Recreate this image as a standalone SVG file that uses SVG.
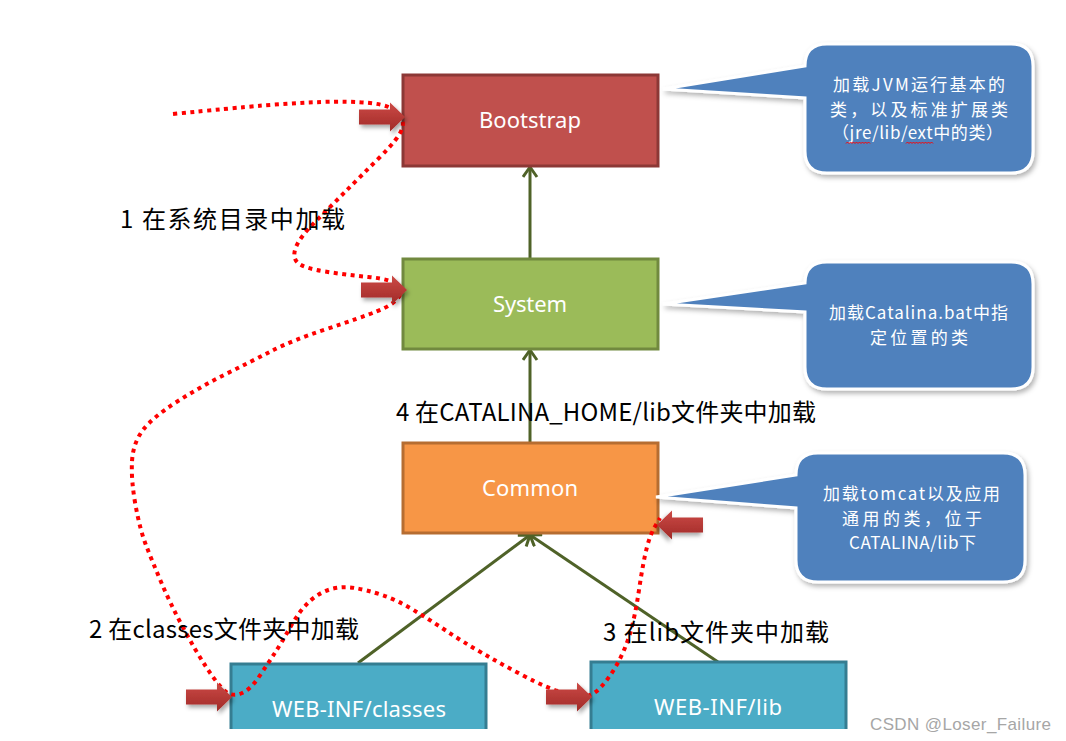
<svg xmlns="http://www.w3.org/2000/svg" width="1066" height="741" viewBox="0 0 1066 741">
<style>
.box{stroke-width:3}
.btxt{font-family:"Noto Sans","Open Sans",sans-serif;font-size:22px;fill:#ffffff;text-anchor:middle}
.ctxt{font-family:"Noto Sans CJK SC","Noto Sans",sans-serif;font-size:17px;fill:#ffffff}
.lbl{font-family:"Noto Sans CJK SC","Noto Sans",sans-serif;font-size:24px;fill:#000000}
.callout{fill:#4f81bd;stroke:#ffffff;stroke-width:3;filter:url(#cshadow)}
.conn{stroke:#4f6228;stroke-width:3;fill:none;marker-end:url(#vhead)}
.dots{fill:none;stroke:#ff0000;stroke-width:4;stroke-dasharray:4 4.5}
.squig{fill:none;stroke:#ff0000;stroke-width:1}
</style>
<defs>
<filter id="cshadow" x="-10%" y="-10%" width="125%" height="130%">
<feDropShadow dx="2" dy="3" stdDeviation="2.5" flood-color="#000" flood-opacity="0.3"/>
</filter>
<filter id="ashadow" x="-20%" y="-30%" width="150%" height="170%">
<feDropShadow dx="2" dy="3" stdDeviation="2" flood-color="#000" flood-opacity="0.35"/>
</filter>
<linearGradient id="ared" x1="0" y1="0" x2="0" y2="1">
<stop offset="0" stop-color="#cc4a46"/>
<stop offset="1" stop-color="#a02a27"/>
</linearGradient>
<path id="barrow" d="M0,-7.5 H31 V-14.5 L46,0 L31,14.5 V7.5 H0 Z" fill="url(#ared)" filter="url(#ashadow)"/>
<marker id="vhead" markerUnits="userSpaceOnUse" markerWidth="16" markerHeight="18" refX="11" refY="8" orient="auto">
<path d="M1,1 L11,8 L1,15" fill="none" stroke="#4f6228" stroke-width="3"/>
</marker>
</defs>
<rect width="1066" height="741" fill="#ffffff"/>

<g id="connectors">
<line class="conn" x1="530" y1="259" x2="530" y2="167"/>
<line class="conn" x1="530" y1="443" x2="530" y2="350"/>
<line class="conn" x1="358" y1="663" x2="530" y2="535"/>
<line class="conn" x1="718" y1="662" x2="530" y2="535"/>
</g>

<g id="node-bootstrap">
<rect class="box" x="403" y="75" width="255" height="91" fill="#c0504d" stroke="#8c3836"/>
<text class="btxt" x="530" y="128" textLength="102">Bootstrap</text>
</g>
<g id="node-system">
<rect class="box" x="403" y="259" width="255" height="90" fill="#9bbb59" stroke="#71893f"/>
<text class="btxt" x="530" y="312" textLength="74">System</text>
</g>
<g id="node-common">
<rect class="box" x="403" y="443" width="255" height="90" fill="#f79646" stroke="#b66d31"/>
<text class="btxt" x="530" y="496" textLength="96">Common</text>
</g>
<g id="node-webinf-classes">
<rect x="231" y="664" width="255" height="65" fill="#4bacc6"/>
<path d="M231,729 V664 H486 V729" fill="none" stroke="#357d91" stroke-width="3"/>
<text class="btxt" x="359" y="717" textLength="174">WEB-INF/classes</text>
</g>
<g id="node-webinf-lib">
<rect x="591" y="662" width="255" height="67" fill="#4bacc6"/>
<path d="M591,729 V662 H846 V729" fill="none" stroke="#357d91" stroke-width="3"/>
<text class="btxt" x="718" y="715" textLength="128">WEB-INF/lib</text>
</g>

<g id="callout-bootstrap">
<path class="callout" d="M827,44 H1011 Q1033,44 1033,66 V151 Q1033,173 1011,173 H827 Q805,173 805,151 V98 L663,89 L805,66 Q805,44 827,44 Z"/>
<text class="ctxt" x="833" y="91" textLength="172">加载JVM运行基本的</text>
<text class="ctxt" x="830" y="116" textLength="178">类，以及标准扩展类</text>
<text class="ctxt" x="832" y="139" textLength="171">（jre/lib/ext中的类）</text>
<path class="squig" d="M846,143.5 l1.5,-1.5 l1.5,1.5 l1.5,-1.5 l1.5,1.5 l1.5,-1.5 l1.5,1.5 l1.5,-1.5 l1.5,1.5 l1.5,-1.5 l1.5,1.5 l1.5,-1.5 l1.5,1.5 l1.5,-1.5 l1.5,1.5 l1.5,-1.5 l1.5,1.5"/>
<path class="squig" d="M906,143.5 l1.5,-1.5 l1.5,1.5 l1.5,-1.5 l1.5,1.5 l1.5,-1.5 l1.5,1.5 l1.5,-1.5 l1.5,1.5 l1.5,-1.5 l1.5,1.5 l1.5,-1.5 l1.5,1.5 l1.5,-1.5 l1.5,1.5 l1.5,-1.5 l1.5,1.5 l1.5,-1.5 l1.5,1.5"/>
</g>
<g id="callout-system">
<path class="callout" d="M827,262 H1011 Q1033,262 1033,284 V367 Q1033,389 1011,389 H827 Q805,389 805,367 V312 L663,304 L805,283 Q805,262 827,262 Z"/>
<text class="ctxt" x="829" y="319" textLength="179">加载Catalina.bat中指</text>
<text class="ctxt" x="870" y="344" textLength="98">定位置的类</text>
</g>
<g id="callout-common">
<path class="callout" d="M818,453 H1003 Q1025,453 1025,475 V560 Q1025,582 1003,582 H818 Q796,582 796,560 V508 L656,497 L796,475 Q796,453 818,453 Z"/>
<text class="ctxt" x="823" y="500" textLength="177">加载tomcat以及应用</text>
<text class="ctxt" x="842" y="525" textLength="140">通用的类，位于</text>
<text class="ctxt" x="849" y="549" textLength="127">CATALINA/lib下</text>
</g>

<g id="load-path">
<path class="dots" d="M173,114 Q233,108 263,105.5 Q293,103 321.5,102 Q350,101 370,103 Q390,105 397.5,112.5 Q405,120 402,129 Q399,138 379.5,157.5 Q360,177 345,192 Q330,207 315,222 Q300,237 296,247 Q292,257 297.5,262.5 Q303,268 325,271.5 Q347,275 368.5,277 Q390,279 397,284.5 Q404,290 398.5,297.5 Q393,305 376.5,311.5 Q360,318 326.5,329 Q293,340 271.5,351 Q250,362 225,374.5 Q200,387 176.5,402 Q153,417 143,430 Q133,443 132,461.5 Q131,480 135.5,505 Q140,530 146.5,546.5 Q153,563 161.5,583 Q170,603 182.5,626.5 Q195,650 206.5,667.5 Q218,685 225,691 Q232,697 241,693.5 Q250,690 258.5,677.5 Q267,665 274.5,653.5 Q282,642 291,626 Q300,610 310,601 Q320,592 331.5,589 Q343,586 355,588 Q367,590 382,595 Q397,600 413.5,610 Q430,620 446.5,631 Q463,642 483,653.5 Q503,665 525,676.5 Q547,688 559.5,691.5 Q572,695 582,696 Q592,697 601,687 Q610,677 617.5,663.5 Q625,650 630,633.5 Q635,617 639,590 Q643,563 646.5,549 Q650,535 655,526.5 L660,518"/>
</g>

<g id="block-arrows">
<use href="#barrow" transform="translate(359,117)"/>
<use href="#barrow" transform="translate(361,290)"/>
<use href="#barrow" transform="translate(186,697)"/>
<use href="#barrow" transform="translate(546,697)"/>
<use href="#barrow" transform="translate(703,525) scale(-1,1)"/>
</g>

<g id="labels">
<text class="lbl" x="120" y="228" textLength="225">1 在系统目录中加载</text>
<text class="lbl" x="396" y="421" textLength="420">4 在CATALINA_HOME/lib文件夹中加载</text>
<text class="lbl" x="89" y="638" textLength="270">2 在classes文件夹中加载</text>
<text class="lbl" x="603" y="641" textLength="226">3 在lib文件夹中加载</text>
</g>

<text x="870" y="730" textLength="181" style="font-family:'Liberation Sans',Arial,sans-serif;font-size:17px;fill:#a6a6a6">CSDN @Loser_Failure</text>
</svg>
